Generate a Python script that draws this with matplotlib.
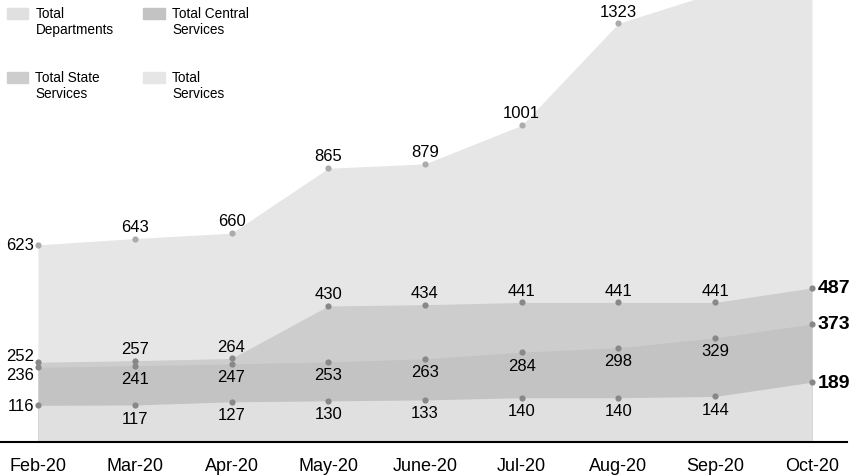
"""Overlapping area chart of monthly service totals, Feb-20 to Oct-20."""

import matplotlib

matplotlib.use("Agg")
import matplotlib.pyplot as plt
import numpy as np
from matplotlib.legend_handler import HandlerPatch
from matplotlib.patches import Patch, Rectangle

plt.rcParams["font.family"] = ["Liberation Sans", "DejaVu Sans"]

months = ["Feb-20", "Mar-20", "Apr-20", "May-20", "June-20",
          "Jul-20", "Aug-20", "Sep-20", "Oct-20"]

# last two values of the top series run off the top of the chart: estimated
total_services = [623, 643, 660, 865, 879, 1001, 1323, 1420, 1490]
total_state_services = [252, 257, 264, 430, 434, 441, 441, 441, 487]
total_central_services = [236, 241, 247, 253, 263, 284, 298, 329, 373]
total_departments = [116, 117, 127, 130, 133, 140, 140, 144, 189]

# how many points of each series carry a label (top series is clipped after Aug)
labelled_points = {"services": 7, "state": 9, "central": 9, "departments": 9}


def label_series(ax, x, values, count, side, first_dy=0):
    for i in range(count):
        v = values[i]
        if i == 0:
            ax.annotate(str(v), (x[i], v), xytext=(-3, first_dy),
                        textcoords="offset points", ha="right", va="center",
                        fontsize=12, zorder=6)
        elif i == len(values) - 1:
            ax.annotate(str(v), (x[i], v), xytext=(4, 0),
                        textcoords="offset points", ha="left", va="center",
                        fontsize=14, fontweight="bold", zorder=6)
        elif side == "above":
            ax.annotate(str(v), (x[i], v), xytext=(0, 3.5),
                        textcoords="offset points", ha="center", va="bottom",
                        fontsize=12, zorder=6)
        else:
            ax.annotate(str(v), (x[i], v), xytext=(0, -4),
                        textcoords="offset points", ha="center", va="top",
                        fontsize=12, zorder=6)


def top_aligned_patch(legend, orig_handle, xdescent, ydescent, width, height,
                      fontsize):
    # lift the swatch so it sits beside the first line of a two-line label
    return Rectangle((-xdescent, -ydescent + 0.6 * fontsize), width, height)


def main() -> None:
    fig = plt.figure(figsize=(8.66, 4.77), dpi=100)
    ax = fig.add_axes([0, 1 - 443 / 477, 847 / 866, 443 / 477])
    x = np.arange(len(months))

    series = [
        ("Total Services", total_services, "#e6e6e6", "#ababab"),
        ("Total State Services", total_state_services, "#cdcdcd", "#888888"),
        ("Total Central Services", total_central_services, "#c3c3c3", "#888888"),
        ("Total Departments", total_departments, "#e0e0e0", "#888888"),
    ]
    for z, (name, values, fill, dot) in enumerate(series):
        ax.fill_between(x, 0, values, color=fill, linewidth=0, zorder=1 + z)
        ax.scatter(x, values, s=20, color=dot, zorder=5, linewidths=0)

    label_series(ax, x, total_services, labelled_points["services"], "above")
    label_series(ax, x, total_state_services, labelled_points["state"], "above",
                 first_dy=5)
    label_series(ax, x, total_central_services, labelled_points["central"],
                 "below", first_dy=-5)
    label_series(ax, x, total_departments, labelled_points["departments"], "below")

    ax.set_xlim(-0.393, 8.362)
    ax.set_ylim(0, 1400)
    ax.set_xticks(x)
    ax.set_xticklabels(months)
    ax.set_yticks([])
    ax.tick_params(axis="x", length=0, pad=11, labelsize=13)
    for side in ("top", "left", "right"):
        ax.spines[side].set_visible(False)
    ax.spines["bottom"].set_linewidth(1.5)
    ax.spines["bottom"].set_zorder(7)
    ax.patch.set_visible(False)

    handles = [
        Patch(color="#e0e0e0", label="Total\nDepartments"),
        Patch(color="#cdcdcd", label="Total State\nServices"),
        Patch(color="#c3c3c3", label="Total Central\nServices"),
        Patch(color="#e6e6e6", label="Total\nServices"),
    ]
    ax.legend(handles=handles, loc="upper left", bbox_to_anchor=(0.0, 1.0),
              ncol=2, frameon=False, fontsize=9.8, handlelength=1.55,
              handleheight=0.85, handletextpad=0.55, columnspacing=2.2,
              labelspacing=2.5, borderaxespad=0.3, borderpad=0.2,
              handler_map={Patch: HandlerPatch(patch_func=top_aligned_patch)})

    fig.savefig("out.png", dpi=100)
    plt.close(fig)


if __name__ == "__main__":
    main()
